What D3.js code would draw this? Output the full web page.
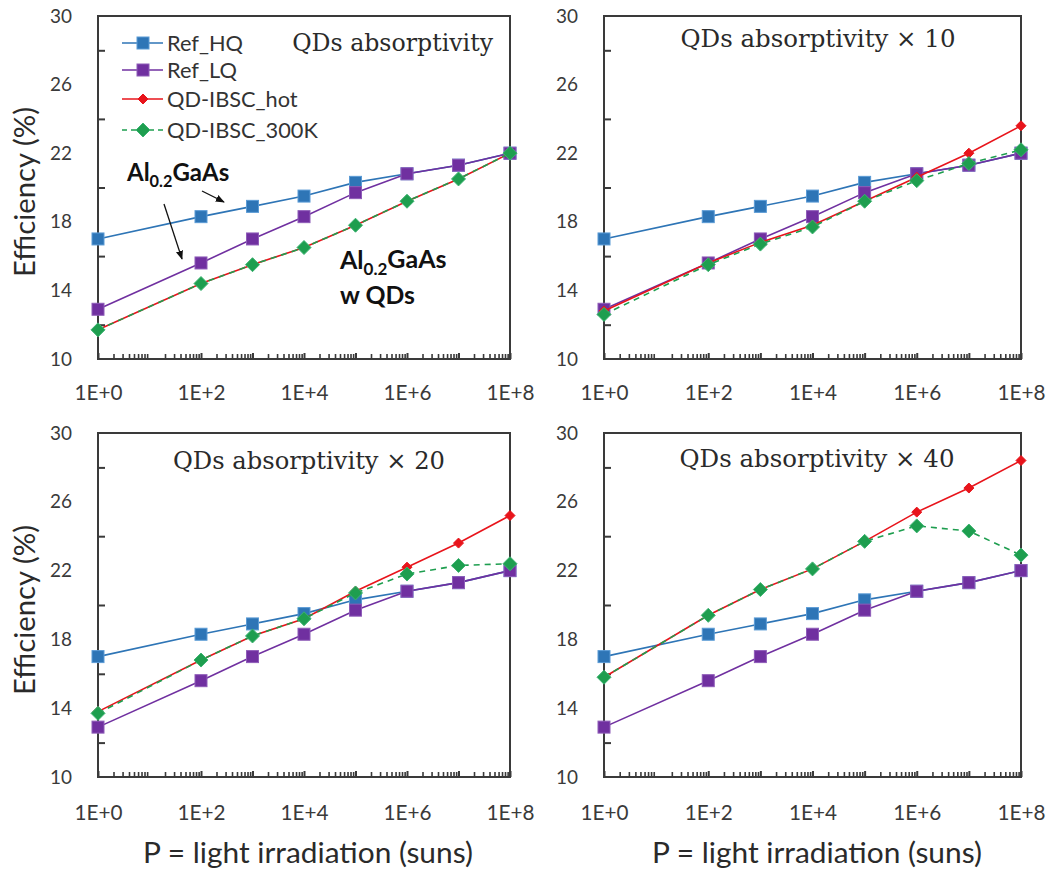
<!DOCTYPE html>
<html><head><meta charset="utf-8">
<script src="https://cdn.jsdelivr.net/npm/d3@7"></script>
<style>body{margin:0;background:#fff}svg{display:block}</style>
</head><body>
<svg id="c" width="1052" height="870"></svg>
<script>
// ---- data ----
const xVals = [1, 1e2, 1e3, 1e4, 1e5, 1e6, 1e7, 1e8];
const xTickVals = [1, 1e2, 1e4, 1e6, 1e8];
const xTickLabels = ["1E+0", "1E+2", "1E+4", "1E+6", "1E+8"];
const yTickVals = [10, 14, 18, 22, 26, 30];
const yMinorVals = [12, 16, 20, 24, 28];
const seriesNames = ["Ref_HQ", "Ref_LQ", "QD-IBSC_hot", "QD-IBSC_300K"];
const panelTitles = ["QDs absorptivity", "QDs absorptivity \u00d7 10", "QDs absorptivity \u00d7 20", "QDs absorptivity \u00d7 40"];
const refHQ = [17.0, 18.3, 18.9, 19.5, 20.3, 20.8, 21.3, 22.0];
const refLQ = [12.9, 15.6, 17.0, 18.3, 19.7, 20.8, 21.3, 22.0];
const hotX1 = [11.7, 14.4, 15.5, 16.5, 17.8, 19.2, 20.5, 22.0];
const k300X1 = [11.7, 14.4, 15.5, 16.5, 17.8, 19.2, 20.5, 22.0];
const hotX10 = [12.8, 15.6, 16.8, 17.8, 19.2, 20.6, 22.0, 23.6];
const k300X10 = [12.6, 15.5, 16.7, 17.7, 19.2, 20.4, 21.4, 22.2];
const hotX20 = [13.8, 16.8, 18.2, 19.2, 20.8, 22.2, 23.6, 25.2];
const k300X20 = [13.7, 16.8, 18.2, 19.2, 20.7, 21.8, 22.3, 22.4];
const hotX40 = [15.8, 19.4, 20.9, 22.1, 23.7, 25.4, 26.8, 28.4];
const k300X40 = [15.8, 19.4, 20.9, 22.1, 23.7, 24.6, 24.3, 22.9];

const panelData = [
  [refHQ, refLQ, hotX1, k300X1],
  [refHQ, refLQ, hotX10, k300X10],
  [refHQ, refLQ, hotX20, k300X20],
  [refHQ, refLQ, hotX40, k300X40]
];

// ---- styles ----
const colors = ["#2E75B6", "#7030A0", "#E8141B", "#1E9E4F"];
const markerStroke = ["#5B9BD5", "#8E5CB8", "#E8141B", "#3CB371"];
const shapes = ["square", "square", "diamondSmall", "diamond"];
const dashes = [null, null, null, "6,5"];

const panels = [
  {x0: 98, x1: 510, y0: 16, y1: 359},
  {x0: 604, x1: 1021, y0: 16, y1: 359},
  {x0: 98, x1: 510, y0: 433, y1: 777},
  {x0: 604, x1: 1021, y0: 433, y1: 777}
];
const titlePos = [
  {x: 493, y: 43, anchor: "end", w: 201},
  {x: 818, y: 38, anchor: "middle", w: 275},
  {x: 309, y: 461, anchor: "middle", w: 272},
  {x: 817, y: 458, anchor: "middle", w: 275}
];

const svg = d3.select("#c");
const axisColor = "#3a3a3a";
const sansFont = "Lato, 'Open Sans', sans-serif";
const serifFont = "'DejaVu Serif', 'Liberation Serif', serif";

// fit a text element's font-size to a target width
function fitSize(text, family, weight, target) {
  const t = svg.append("text").attr("font-family", family).attr("font-weight", weight)
    .attr("font-size", 20).text(text);
  const w = t.node().getComputedTextLength();
  t.remove();
  return 20 * target / w;
}
const tickSize = fitSize("1E+0", sansFont, "normal", 48);
const yTickSize = Math.min(tickSize, fitSize("30", sansFont, "normal", 22));
const legendSize = fitSize("QD-IBSC_300K", sansFont, "normal", 151);
const axTitleSize = fitSize("P = light irradiation (suns)", sansFont, "normal", 330);
const effSize = fitSize("Efficiency (%)", sansFont, "normal", 170);

function drawMarker(g, shape, cx, cy, fill, stroke) {
  if (shape === "square") {
    g.append("rect").attr("x", cx - 6).attr("y", cy - 6).attr("width", 12).attr("height", 12)
      .attr("fill", fill).attr("stroke", stroke).attr("stroke-width", 1);
  } else {
    const r = shape === "diamond" ? 7 : 5;
    g.append("path").attr("d", `M${cx},${cy - r}L${cx + r},${cy}L${cx},${cy + r}L${cx - r},${cy}Z`)
      .attr("fill", fill).attr("stroke", stroke).attr("stroke-width", 1);
  }
}

panels.forEach((p, pi) => {
  const x = d3.scaleLog().domain([1, 1e8]).range([p.x0, p.x1]);
  const y = d3.scaleLinear().domain([10, 30]).range([p.y1, p.y0]);
  const g = svg.append("g");

  // plot frame
  g.append("rect").attr("x", p.x0).attr("y", p.y0).attr("width", p.x1 - p.x0).attr("height", p.y1 - p.y0)
    .attr("fill", "none").attr("stroke", axisColor).attr("stroke-width", 2);

  // y axis labels
  const yAxis = d3.axisLeft(y).tickValues(yTickVals).tickSize(0).tickPadding(26).tickFormat(d3.format("d"));
  const ya = g.append("g").attr("transform", `translate(${p.x0},0)`).call(yAxis);
  ya.select(".domain").remove();
  ya.selectAll("text").attr("font-family", sansFont).attr("font-size", yTickSize).attr("fill", "#3a3a3a");
  // y minor ticks (inside)
  const ym = g.append("g").attr("transform", `translate(${p.x0},0)`)
    .call(d3.axisRight(y).tickValues(yMinorVals).tickSize(7).tickFormat(""));
  ym.select(".domain").remove();
  ym.selectAll("line").attr("stroke", axisColor).attr("stroke-width", 2);

  // x axis labels
  const xAxis = d3.axisBottom(x).tickValues(xTickVals).tickSize(0)
    .tickFormat((d, i) => xTickLabels[i]);
  const xa = g.append("g").attr("transform", `translate(0,${p.y1})`).call(xAxis);
  xa.select(".domain").remove();
  xa.selectAll("text").attr("font-family", sansFont).attr("font-size", tickSize).attr("fill", "#3a3a3a")
    .attr("y", pi < 2 ? 34 : 36).attr("dy", "0.35em");
  // x minor ticks inside (log)
  const minorX = [];
  for (let k = 0; k < 8; k++) for (let m = 2; m <= 9; m++) minorX.push(m * Math.pow(10, k));
  const xm = g.append("g").attr("transform", `translate(0,${p.y1})`)
    .call(d3.axisTop(x).tickValues(minorX).tickSize(5).tickFormat(""));
  xm.select(".domain").remove();
  xm.selectAll("line").attr("stroke", axisColor).attr("stroke-width", 1.6);
  const xM = g.append("g").attr("transform", `translate(0,${p.y1})`)
    .call(d3.axisTop(x).tickValues(xVals).tickSize(6).tickFormat(""));
  xM.select(".domain").remove();
  xM.selectAll("line").attr("stroke", axisColor).attr("stroke-width", 2);

  // series
  const line = d3.line().x((d, i) => x(xVals[i])).y(d => y(d));
  panelData[pi].forEach((vals, si) => {
    const sg = g.append("g");
    const path = sg.append("path").attr("d", line(vals)).attr("fill", "none")
      .attr("stroke", colors[si]).attr("stroke-width", 1.6);
    if (dashes[si]) path.attr("stroke-dasharray", dashes[si]);
    vals.forEach((v, i) => drawMarker(sg, shapes[si], x(xVals[i]), y(v), colors[si], markerStroke[si]));
  });

  // title
  const tp = titlePos[pi];
  g.append("text").attr("x", tp.x).attr("y", tp.y).attr("dy", "0.35em").attr("text-anchor", tp.anchor)
    .attr("font-family", serifFont).attr("font-size", fitSize(panelTitles[pi], serifFont, "normal", tp.w))
    .attr("fill", "#2a2a2a").text(panelTitles[pi]);
});

// y axis titles
[{x: 25, y: 192}, {x: 25, y: 610}].forEach(t => {
  svg.append("text").attr("transform", `translate(${t.x},${t.y}) rotate(-90)`).attr("dy", "0.35em")
    .attr("text-anchor", "middle").attr("font-family", sansFont).attr("font-size", effSize).attr("fill", "#2a2a2a")
    .text("Efficiency (%)");
});
// x axis titles
[{x: 308, y: 853}, {x: 817, y: 853}].forEach(t => {
  svg.append("text").attr("x", t.x).attr("y", t.y).attr("dy", "0.35em").attr("text-anchor", "middle")
    .attr("font-family", sansFont).attr("font-size", axTitleSize).attr("fill", "#2a2a2a")
    .text("P = light irradiation (suns)");
});

// legend (top-left panel)
const legY = [43, 70, 99, 130];
seriesNames.forEach((name, si) => {
  const lg = svg.append("g");
  const l = lg.append("line").attr("x1", 122).attr("x2", 163).attr("y1", legY[si]).attr("y2", legY[si])
    .attr("stroke", colors[si]).attr("stroke-width", 1.6);
  if (dashes[si]) l.attr("stroke-dasharray", "5,4");
  drawMarker(lg, shapes[si], 143, legY[si], colors[si], markerStroke[si]);
  lg.append("text").attr("x", 167).attr("y", legY[si]).attr("dy", "0.35em").attr("font-family", sansFont)
    .attr("font-size", legendSize).attr("fill", "#333").text(name);
});

// annotations
svg.append("defs").append("marker").attr("id", "arr").attr("viewBox", "0 0 10 10").attr("refX", 9).attr("refY", 5)
  .attr("markerWidth", 7).attr("markerHeight", 7).attr("orient", "auto")
  .append("path").attr("d", "M0,1L10,5L0,9Z").attr("fill", "#111");
function alLabel(xp, yp, size) {
  const t = svg.append("text").attr("x", xp).attr("y", yp).attr("dy", "0.35em").attr("font-family", sansFont)
    .attr("font-weight", "bold").attr("font-size", size).attr("fill", "#111");
  t.append("tspan").text("Al");
  t.append("tspan").attr("font-size", size * 0.68).attr("dy", "0.35em").text("0.2");
  t.append("tspan").attr("dy", "-0.25em").text("GaAs");
}
alLabel(127, 173, 24);
alLabel(340, 260, 25);
svg.append("text").attr("x", 340).attr("y", 295).attr("dy", "0.35em").attr("font-family", sansFont)
  .attr("font-weight", "bold").attr("font-size", fitSize("w QDs", sansFont, "bold", 75)).attr("fill", "#111").text("w QDs");
svg.append("line").attr("x1", 202).attr("y1", 191).attr("x2", 224).attr("y2", 202)
  .attr("stroke", "#111").attr("stroke-width", 1.3).attr("marker-end", "url(#arr)");
svg.append("line").attr("x1", 164).attr("y1", 204).attr("x2", 182).attr("y2", 259)
  .attr("stroke", "#111").attr("stroke-width", 1.3).attr("marker-end", "url(#arr)");
</script>
</body></html>
